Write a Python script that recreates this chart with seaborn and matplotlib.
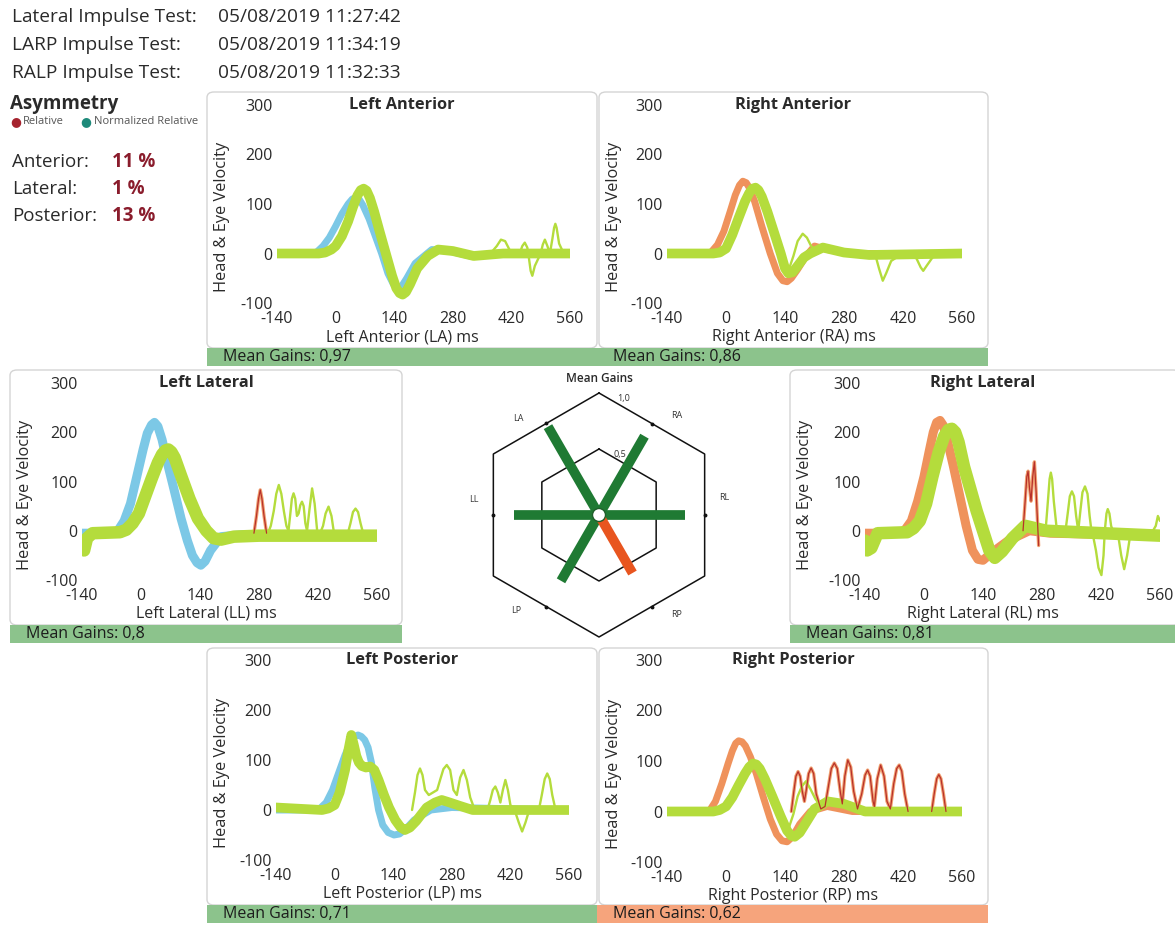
import matplotlib
matplotlib.use("Agg")
import matplotlib.pyplot as plt
from matplotlib.patches import FancyBboxPatch, Rectangle, Circle
import numpy as np
import seaborn as sns

# ---------------------------------------------------------------- data ----
TEST_NAMES = ["Lateral Impulse Test:", "LARP Impulse Test:", "RALP Impulse Test:"]
TEST_TIMES = ["05/08/2019 11:27:42", "05/08/2019 11:34:19", "05/08/2019 11:32:33"]

ASYM_NAMES = ["Anterior:", "Lateral:", "Posterior:"]
ASYM_VALUES = [11, 1, 13]

CANALS = ["LA", "RA", "LL", "RL", "LP", "RP"]
CANAL_TITLES = ["Left Anterior", "Right Anterior", "Left Lateral",
                "Right Lateral", "Left Posterior", "Right Posterior"]
MEAN_GAINS = [0.97, 0.86, 0.80, 0.81, 0.71, 0.62]
SPOKE_ANGLES = [120, 60, 180, 0, 240, 300]
RING_LEVELS = [0.5, 1.0]

X_TICKS = [-140, 0, 140, 280, 420, 560]
Y_TICKS = [-100, 0, 100, 200, 300]

# Left anterior: head and eye velocity (ms, deg/s), late saccades
LA_HEAD_T = [-140, -60, -45, -30, -15, 0, 15, 30, 40, 48, 56, 65, 80, 95, 110, 125, 138, 148, 158, 170, 190, 230, 270, 320, 400, 560]
LA_HEAD_V = [0, 0, 3, 15, 32, 55, 80, 100, 110, 113, 110, 98, 70, 35, 0, -40, -62, -70, -66, -50, -20, 8, 5, -5, 0, 0]
LA_EYE_T = [-140, -40, -25, -10, 0, 15, 30, 42, 52, 60, 67, 74, 82, 92, 105, 120, 135, 145, 153, 160, 168, 178, 195, 220, 245, 280, 330, 400, 560]
LA_EYE_V = [0, 0, 2, 8, 15, 35, 65, 95, 117, 128, 131, 127, 112, 85, 45, 0, -45, -70, -80, -83, -78, -62, -30, -5, 8, 5, -5, 0, 0]
LA_LATE = [([370, 385, 395, 405, 420, 440, 446, 452, 458, 462, 466, 470, 476, 490, 495, 500, 506, 512, 518, 522, 525, 528, 534, 545, 560],
            [0, 15, 28, 25, 0, 0, 15, 22, 12, -10, -35, -45, -25, 0, 18, 28, 15, 0, 30, 52, 60, 52, 20, 0, 0])]
LA_RED = []

# Right anterior
RA_HEAD_T = [-140, -50, -35, -20, -5, 10, 22, 32, 40, 48, 56, 68, 85, 105, 122, 135, 145, 155, 170, 190, 210, 240, 300, 560]
RA_HEAD_V = [0, 0, 3, 18, 45, 85, 118, 138, 146, 143, 132, 105, 55, 0, -40, -55, -57, -50, -32, -5, 15, 8, 0, 0]
RA_EYE_T = [-140, -30, -15, 0, 15, 30, 45, 55, 63, 70, 77, 85, 98, 115, 130, 140, 148, 158, 170, 185, 200, 230, 280, 340, 560]
RA_EYE_V = [0, 0, 2, 10, 38, 72, 105, 122, 131, 133, 128, 115, 85, 40, 0, -30, -40, -38, -25, -8, 0, 12, 2, -3, 0]
RA_LATE = [([150, 160, 170, 182, 192, 202, 215], [-30, -5, 25, 40, 32, 15, 5]),
           ([340, 355, 363, 372, 380, 392, 410, 440, 452, 462, 468, 476, 490, 505],
            [-3, -5, -30, -55, -40, -15, -5, -5, -10, -28, -35, -25, -8, 0])]
RA_RED = []

# Left lateral
LL_HEAD_T = [-140, -70, -55, -40, -25, -10, 5, 15, 25, 32, 40, 50, 62, 78, 95, 110, 122, 133, 142, 152, 165, 190, 240, 560]
LL_HEAD_V = [-5, -5, 0, 20, 55, 110, 165, 198, 215, 220, 212, 185, 140, 85, 25, -20, -50, -65, -70, -62, -40, -12, -8, -8]
LL_EYE_T = [-140, -135, -128, -115, -50, -35, -20, -5, 10, 25, 40, 50, 58, 65, 72, 80, 95, 115, 135, 155, 172, 190, 220, 280, 560]
LL_EYE_V = [-30, -40, -15, -5, -3, 2, 15, 35, 70, 105, 138, 155, 163, 165, 160, 148, 112, 65, 25, 0, -15, -18, -12, -10, -10]
LL_LATE = [([300, 308, 315, 321, 327, 333, 339, 345, 350, 355, 358, 362, 366, 370, 374, 378, 382, 386, 390, 394, 400, 406, 412, 418, 425, 432, 438, 445, 452, 458],
            [-8, 10, 40, 75, 93, 75, 40, 10, 0, 40, 65, 76, 65, 30, 35, 52, 59, 50, 15, 0, 45, 86, 55, 0, -5, 10, 35, 49, 30, -5]),
           ([490, 497, 503, 509, 515, 521, 528], [-8, 15, 38, 45, 38, 15, -8])]
LL_RED = [([268, 274, 279, 283, 287, 292, 298], [-5, 30, 65, 83, 65, 30, -5])]

# Right lateral
RL_HEAD_T = [-140, -60, -45, -30, -15, 0, 12, 22, 30, 38, 45, 55, 70, 85, 100, 115, 128, 140, 160, 200, 250, 300, 560]
RL_HEAD_V = [-5, -5, 2, 20, 60, 110, 160, 200, 220, 224, 215, 185, 130, 70, 10, -40, -58, -60, -45, -20, 0, -5, -10]
RL_EYE_T = [-140, -135, -125, -110, -40, -25, -10, 5, 20, 35, 48, 58, 66, 74, 82, 95, 110, 125, 140, 155, 168, 185, 210, 240, 290, 560]
RL_EYE_V = [-20, -40, -35, -5, -3, 5, 20, 55, 110, 160, 192, 205, 207, 200, 180, 130, 85, 40, 0, -40, -55, -42, -15, 10, 0, -10]
RL_LATE = [([288, 294, 298, 301, 304, 308, 316], [-5, 60, 105, 118, 105, 60, -5]),
           ([335, 341, 346, 351, 356, 361, 366, 371, 376, 382, 388, 393, 398],
            [-5, 35, 70, 80, 70, 30, 0, 40, 78, 90, 75, 30, -5]),
           ([400, 408, 414, 421, 426, 429, 433, 436, 440, 444, 450, 460, 468, 475, 482, 490, 540, 550, 555, 560],
            [-5, -40, -75, -90, -50, 0, 35, 44, 35, 10, -5, -5, -50, -78, -50, -5, -5, 10, 30, 20])]
RL_RED = [([235, 240, 244, 247, 250, 254, 258, 262, 266, 272], [0, 60, 110, 121, 90, 60, 110, 140, 80, -30])]

# Left posterior
LP_HEAD_T = [-140, -50, -35, -20, -5, 10, 25, 38, 48, 56, 64, 72, 80, 88, 96, 105, 115, 128, 142, 155, 170, 190, 230, 280, 560]
LP_HEAD_V = [0, 0, 3, 15, 40, 75, 110, 135, 147, 150, 147, 140, 125, 95, 45, 0, -30, -45, -50, -48, -38, -20, 0, 5, 0]
LP_EYE_T = [-140, -30, -15, 0, 12, 25, 33, 40, 46, 52, 58, 65, 75, 85, 95, 105, 118, 130, 145, 158, 168, 180, 195, 220, 240, 256, 275, 300, 330, 560]
LP_EYE_V = [5, 0, 3, 10, 35, 80, 120, 150, 130, 108, 95, 88, 85, 87, 80, 60, 30, 5, -20, -35, -40, -35, -22, 5, 15, 20, 15, 8, 0, 0]
LP_LATE = [([185, 192, 198, 204, 210, 216, 225, 235, 245, 252, 260, 268, 276, 284, 292, 300, 308, 316, 324, 335],
            [0, 35, 70, 83, 70, 40, 30, 35, 40, 60, 82, 90, 80, 40, 30, 65, 80, 60, 25, 0]),
           ([365, 372, 378, 384, 390, 396, 402, 408, 414, 420, 430, 440, 448, 456, 465],
            [0, 20, 40, 47, 35, 15, 40, 60, 40, 10, 0, -25, -43, -25, 0]),
           ([488, 495, 502, 508, 514, 520, 528], [0, 30, 62, 73, 62, 30, 0])]
LP_RED = []

# Right posterior
RP_HEAD_T = [-140, -50, -38, -25, -10, 5, 15, 23, 30, 38, 46, 58, 72, 88, 105, 120, 133, 145, 158, 175, 200, 240, 300, 560]
RP_HEAD_V = [0, 0, 3, 20, 55, 95, 120, 135, 140, 138, 130, 108, 75, 30, -15, -45, -58, -60, -50, -25, 0, 10, 0, 0]
RP_EYE_T = [-140, -30, -15, 0, 15, 30, 45, 55, 64, 72, 80, 92, 110, 130, 145, 155, 163, 175, 190, 210, 241, 280, 330, 400, 560]
RP_EYE_V = [0, 0, 3, 10, 28, 52, 75, 88, 95, 93, 85, 65, 30, -10, -38, -48, -50, -42, -22, 5, 20, 15, 0, 0, 0]
RP_LATE = [([150, 160, 170, 180, 190, 200, 212, 225], [-30, -5, 30, 50, 60, 45, 25, 10])]
RP_RED = [([155, 161, 166, 171, 176, 181, 186, 191, 196, 202, 208, 214, 225, 235, 243, 250, 257, 264, 271, 276, 282, 289, 296, 303, 312, 322, 330, 336, 342, 349, 352, 359, 367, 375, 382, 390, 398, 405, 411, 417, 424, 432],
           [0, 40, 70, 79, 70, 40, 20, 45, 75, 86, 75, 35, 5, 10, 50, 85, 96, 85, 40, 15, 70, 102, 88, 40, 5, 35, 72, 82, 70, 20, 10, 65, 92, 70, 20, 5, 55, 85, 92, 80, 35, 0]),
          ([488, 494, 500, 505, 510, 516, 522], [0, 35, 65, 73, 65, 35, 0])]

TRACES = {
    "LA": (LA_HEAD_T, LA_HEAD_V, LA_EYE_T, LA_EYE_V, LA_LATE, LA_RED),
    "RA": (RA_HEAD_T, RA_HEAD_V, RA_EYE_T, RA_EYE_V, RA_LATE, RA_RED),
    "LL": (LL_HEAD_T, LL_HEAD_V, LL_EYE_T, LL_EYE_V, LL_LATE, LL_RED),
    "RL": (RL_HEAD_T, RL_HEAD_V, RL_EYE_T, RL_EYE_V, RL_LATE, RL_RED),
    "LP": (LP_HEAD_T, LP_HEAD_V, LP_EYE_T, LP_EYE_V, LP_LATE, LP_RED),
    "RP": (RP_HEAD_T, RP_HEAD_V, RP_EYE_T, RP_EYE_V, RP_LATE, RP_RED),
}

# ------------------------------------------------------------ styling ----
W, H = 1175, 925
FONT = ["Open Sans", "DejaVu Sans"]
TXT = "#2a2a2a"
EYE_C = "#b4dc3c"
LEFT_HEAD_C = "#7cc8e6"
RIGHT_HEAD_C = "#ef925c"
RED_C = "#b8302a"
BAR_OK = "#8cc38c"
BAR_LOW = "#f6a47c"
SPOKE_OK = "#1f7a33"
SPOKE_LOW = "#e8551f"
ASYM_C = "#8a1c2c"
LOW_GAIN = 0.7

# panel geometry in pixels: frame box, plot area, gain bar
LAYOUT = {
    "LA": dict(frame=(207, 92, 597, 348), plot=(277, 105, 570, 303), bar=(207, 348, 597, 366)),
    "RA": dict(frame=(599, 92, 988, 348), plot=(667, 105, 962, 303), bar=(597, 348, 988, 366)),
    "LL": dict(frame=(10, 370, 402, 625), plot=(82, 383, 377, 580), bar=(10, 625, 402, 643)),
    "RL": dict(frame=(790, 370, 1180, 625), plot=(865, 383, 1160, 580), bar=(790, 625, 1175, 643)),
    "LP": dict(frame=(207, 648, 597, 905), plot=(276, 660, 569, 860), bar=(207, 905, 597, 923)),
    "RP": dict(frame=(599, 648, 988, 905), plot=(667, 660, 962, 862), bar=(597, 905, 988, 923)),
}

sns.set_theme(style="white")
plt.rcParams["font.family"] = FONT
plt.rcParams["text.color"] = TXT
plt.rcParams["xtick.color"] = TXT
plt.rcParams["ytick.color"] = TXT
plt.rcParams["axes.unicode_minus"] = False

LINE_KW = dict(sort=False, estimator=None, solid_joinstyle="round",
               solid_capstyle="round")


def fx(x):
    return x / W


def fy(y):
    return 1 - y / H


def rect(x0, y0, x1, y1):
    return [x0 / W, 1 - y1 / H, (x1 - x0) / W, (y1 - y0) / H]


fig = plt.figure(figsize=(W / 100, H / 100), dpi=100)
fig.patch.set_facecolor("white")

# ---------------------------------------------------------- header text --
for i, (name, stamp) in enumerate(zip(TEST_NAMES, TEST_TIMES)):
    y = 17 + i * 28
    fig.text(fx(12), fy(y), name, fontsize=13.8, va="center", ha="left")
    fig.text(fx(218), fy(y), stamp, fontsize=13.8, va="center", ha="left")

fig.text(fx(10), fy(104), "Asymmetry", fontsize=13.5, fontweight="bold", va="center")
fig.text(fx(10), fy(122), "\u25cf", color="#a5232e", fontsize=9, va="center")
fig.text(fx(23), fy(122), "Relative", color="#555555", fontsize=8, va="center")
fig.text(fx(80), fy(122), "\u25cf", color="#1e8a7a", fontsize=9, va="center")
fig.text(fx(94), fy(122), "Normalized Relative", color="#555555", fontsize=8, va="center")

for i, (name, val) in enumerate(zip(ASYM_NAMES, ASYM_VALUES)):
    y = 162 + i * 27
    fig.text(fx(12), fy(y), name, fontsize=13.5, va="center")
    fig.text(fx(112), fy(y), f"{val} %", fontsize=13.5, fontweight="bold",
             color=ASYM_C, va="center")

# ------------------------------------------------------- impulse panels --
for canal, title, gain in zip(CANALS, CANAL_TITLES, MEAN_GAINS):
    geo = LAYOUT[canal]
    fx0, fy0, fx1, fy1 = geo["frame"]
    px0, py0, px1, py1 = geo["plot"]
    bx0, by0, bx1, by1 = geo["bar"]

    frame = FancyBboxPatch((fx(fx0), fy(fy1)), (fx1 - fx0) / W, (fy1 - fy0) / H,
                           boxstyle="round,pad=0,rounding_size=0.006",
                           transform=fig.transFigure, fc="white", ec="#d4d4d4",
                           lw=1.0, zorder=-2)
    fig.patches.append(frame)

    ht, hv, et, ev, late, red = TRACES[canal]
    head_c = LEFT_HEAD_C if canal.startswith("L") else RIGHT_HEAD_C
    lateral = canal in ("LL", "RL")

    ax = fig.add_axes(rect(px0, py0, px1, py1))
    ax.set_facecolor("none")
    sns.lineplot(x=ht, y=hv, ax=ax, color=head_c, linewidth=6.5 if lateral else 5,
                 zorder=2, **LINE_KW)
    for lt, lv in red:
        sns.lineplot(x=lt, y=lv, ax=ax, color="#f0a070", linewidth=2.4,
                     zorder=2.5, **LINE_KW)
    sns.lineplot(x=et, y=ev, ax=ax, color=EYE_C, linewidth=9 if lateral else 7,
                 zorder=3, **LINE_KW)
    for lt, lv in late:
        sns.lineplot(x=lt, y=lv, ax=ax, color=EYE_C, linewidth=1.7,
                     zorder=3.5, **LINE_KW)
    for lt, lv in red:
        sns.lineplot(x=lt, y=lv, ax=ax, color=RED_C, linewidth=0.9,
                     zorder=4, **LINE_KW)

    ax.set_xlim(X_TICKS[0], X_TICKS[-1])
    ax.set_ylim(Y_TICKS[0], Y_TICKS[-1])
    ax.set_xticks(X_TICKS)
    ax.set_yticks(Y_TICKS)
    ax.tick_params(axis="both", length=0, labelsize=11.5)
    ax.tick_params(axis="x", pad=6)
    ax.tick_params(axis="y", pad=3)
    ax.set_xlabel("")
    ax.set_ylabel("")
    for s in ax.spines.values():
        s.set_visible(False)
    ax.grid(False)

    cx = (fx0 + fx1) / 2
    if canal == "RL":
        cx = (790 + 1175) / 2
    fig.text(fx(cx), fy(py0), title, fontsize=11.8, fontweight="bold",
             ha="center", va="center")
    fig.text(fx(cx), fy(py1 + 34), f"{title} ({canal}) ms", fontsize=11.5,
             ha="center", va="center")
    fig.text(fx(fx0 + 15), fy((py0 + py1) / 2 + 13), "Head & Eye Velocity",
             fontsize=11.8, rotation=90, ha="center", va="center")

    bar_c = BAR_LOW if gain < LOW_GAIN else BAR_OK
    fig.patches.append(Rectangle((fx(bx0), fy(by1)), (bx1 - bx0) / W, (by1 - by0) / H,
                                 transform=fig.transFigure, fc=bar_c, ec="none", zorder=-1))
    gtxt = f"{gain:.2f}".rstrip("0").replace(".", ",")
    fig.text(fx(bx0 + 16), fy((by0 + by1) / 2), f"Mean Gains: {gtxt}",
             fontsize=11.5, ha="left", va="center", color="#1c1c1c")

# --------------------------------------------------------- gain radar ----
rax = fig.add_axes(rect(402, 370, 790, 640))
rax.set_xlim(-1.97, 1.91)
rax.set_ylim(-1.25, 1.45)
rax.axis("off")

hex_ang = np.deg2rad(np.arange(90, 451, 60))
for level in RING_LEVELS:
    r = 0.1 + 1.12 * level
    sns.lineplot(x=r * np.cos(hex_ang), y=r * np.sin(hex_ang), ax=rax,
                 color="#111111", linewidth=1.1, sort=False, estimator=None)
    rax.text(0.16 + 0.09 * level, r - 0.05, f"{level:.1f}".replace(".", ","),
             fontsize=6.5, ha="center", va="center", color="#333333")

outer = 0.1 + 1.12 * RING_LEVELS[-1]
mid = outer * np.cos(np.deg2rad(30))
for ang in SPOKE_ANGLES:
    a = np.deg2rad(ang)
    rax.plot(mid * np.cos(a), mid * np.sin(a), marker="o", ms=1.8,
             color="#111111", zorder=3)

for canal, gain, ang in zip(CANALS, MEAN_GAINS, SPOKE_ANGLES):
    a = np.deg2rad(ang)
    r = 0.05 + gain
    c = SPOKE_LOW if gain < LOW_GAIN else SPOKE_OK
    rax.plot([0, r * np.cos(a)], [0, r * np.sin(a)], color=c, linewidth=7,
             solid_capstyle="butt", zorder=4)
    off = {180: -7, 0: 8, 120: 10, 60: -8, 240: -11, 300: 8}[ang]
    la = np.deg2rad(ang + off)
    rax.text(1.26 * np.cos(la), 1.26 * np.sin(la), canal, fontsize=6.5,
             ha="center", va="center", color="#333333")

rax.add_patch(Circle((0, 0), 0.065, fc="white", ec="#1f5f2a", lw=1.0, zorder=6))
rax.text(0, 1.36, "Mean Gains", fontsize=8.5, fontweight="semibold",
         ha="center", va="center")

fig.savefig("out.png", dpi=100, facecolor="white")
